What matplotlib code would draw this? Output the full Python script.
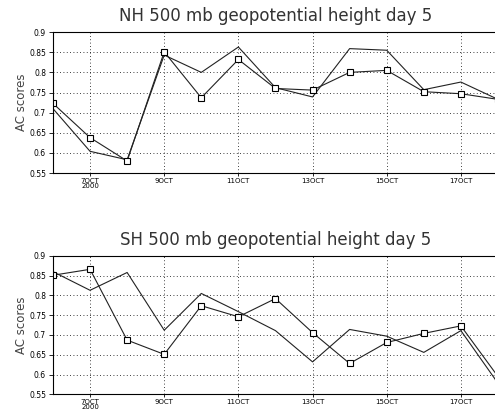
import matplotlib
matplotlib.use("Agg")
import matplotlib.pyplot as plt

days = list(range(6, 19))
tick_days = [7, 9, 11, 13, 15, 17]
tick_labels = ["7OCT\n2000", "9OCT", "11OCT", "13OCT", "15OCT", "17OCT"]
yticks = [0.55, 0.6, 0.65, 0.7, 0.75, 0.8, 0.85, 0.9]

nh_sq = [0.723, 0.638, 0.580, 0.851, 0.737, 0.832, 0.760, 0.756, 0.800, 0.805, 0.752, 0.747, 0.733]
nh_line = [0.710, 0.604, 0.583, 0.843, 0.800, 0.863, 0.762, 0.739, 0.859, 0.855, 0.757, 0.776, 0.733]

sh_sq = [0.851, 0.866, 0.687, 0.651, 0.774, 0.746, 0.792, 0.706, 0.628, 0.681, 0.704, 0.723, 0.595]
sh_line = [0.860, 0.813, 0.858, 0.712, 0.805, 0.759, 0.711, 0.632, 0.714, 0.697, 0.656, 0.711, 0.578]

fig = plt.figure(figsize=(4.95, 4.17), dpi=100)

panels = [
    ([0.107, 0.585, 0.899, 0.338], "NH 500 mb geopotential height day 5", nh_sq, nh_line),
    ([0.107, 0.0544, 0.899, 0.332], "SH 500 mb geopotential height day 5", sh_sq, sh_line),
]

for rect, title, sq, ln in panels:
    ax = fig.add_axes(rect)
    ax.plot(days, ln, color="#222222", lw=0.8)
    ax.plot(days, sq, color="#222222", lw=0.8, marker="s", ms=4,
            mfc="white", mec="black", mew=0.8)
    ax.set_xlim(6, 18)
    ax.set_ylim(0.55, 0.9)
    ax.set_xticks(tick_days)
    ax.set_xticklabels(tick_labels, fontsize=5, linespacing=0.8)
    ax.set_yticks(yticks)
    ax.set_yticklabels(["%g" % v for v in yticks], fontsize=5.5)
    ax.tick_params(axis="x", length=2, width=0.6, pad=1.5)
    ax.tick_params(axis="y", length=3, width=0.6, pad=2)
    ax.grid(True, color="black", linestyle=(0, (1, 3)), linewidth=0.6)
    ax.spines["right"].set_visible(False)
    for s in ["left", "top", "bottom"]:
        ax.spines[s].set_linewidth(0.8)
    ax.set_ylabel("AC scores", fontsize=8.5, color="#444444", labelpad=1)
    ax.set_title(title, fontsize=12, color="#333333", pad=8, x=0.5)

fig.savefig("out.png", dpi=100)
